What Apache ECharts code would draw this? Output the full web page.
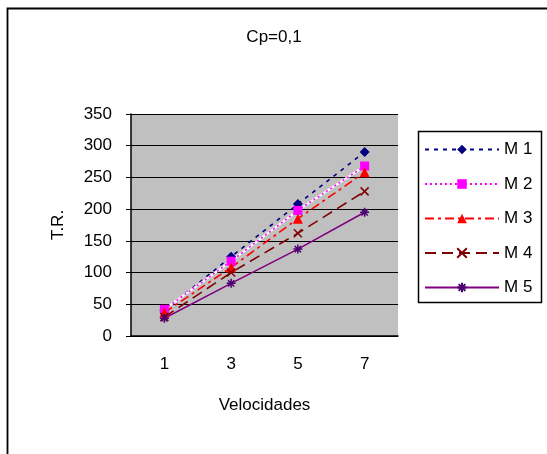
<!DOCTYPE html>
<html><head><meta charset="utf-8">
<script src="https://cdn.jsdelivr.net/npm/echarts@6/dist/echarts.min.js"></script>
<style>html,body{margin:0;padding:0;background:#fff}#c{width:547px;height:454px}</style>
</head><body><div id="c"></div>
<script>
const categories = ['1','3','5','7'];
const seriesNames = ['M 1','M 2','M 3','M 4','M 5'];
const m1 = [40, 125, 208, 290];
const m2 = [42, 118, 198, 268];
const m3 = [37, 108, 185, 258];
const m4 = [30, 100, 162, 228];
const m5 = [28, 83, 137, 195];
const yTicks = {min: 0, max: 350, interval: 50};

const FONT = 'Liberation Sans';
const FS = 17;
const xPath = 'path://M0,0L10,10M10,0L0,10';
const starPath = 'path://M5,0L5,10M0,5L10,5M1.5,1.5L8.5,8.5M8.5,1.5L1.5,8.5';

function ser(name, data, color, mcolor, type, symbol, size, extra) {
  return Object.assign({
    name, type: 'line', data, symbol, symbolSize: size,
    lineStyle: {color, width: 1.6, type},
    itemStyle: {color: mcolor},
    emphasis: {disabled: true},
    animation: false
  }, extra || {});
}

const chart = echarts.init(document.getElementById('c'));
chart.setOption({
  animation: false,
  textStyle: {fontFamily: FONT, color: '#000'},
  title: {text: 'Cp=0,1', left: 269, textAlign: 'center', top: 24,
    textStyle: {fontFamily: FONT, fontSize: FS, fontWeight: 'normal', color: '#000'}},
  graphic: [
    {type: 'rect', shape: {x: 7.5, y: 8.5, width: 600, height: 500}, style: {fill: 'none', stroke: '#000', lineWidth: 1.8}, z: -10},
    {type: 'rect', shape: {x: 418.5, y: 131.5, width: 123, height: 171}, style: {fill: '#fff', stroke: '#000', lineWidth: 1.5}, z: -5}
  ],
  legend: {
    orient: 'vertical', left: 419, top: 136, itemWidth: 74, itemHeight: 12, itemGap: 17.5,
    textStyle: {fontFamily: FONT, fontSize: FS, color: '#000'},
    data: seriesNames
  },
  grid: {left: 131, top: 114, width: 267, height: 222, backgroundColor: '#c0c0c0', show: true, borderWidth: 0},
  xAxis: {
    type: 'category', data: categories, boundaryGap: true,
    name: 'Velocidades', nameLocation: 'middle', nameGap: 61,
    nameTextStyle: {fontFamily: FONT, fontSize: FS, color: '#000'},
    axisLine: {lineStyle: {color: '#000', width: 1.5}},
    axisTick: {length: 5, lineStyle: {color: '#000'}},
    axisLabel: {margin: 20, fontFamily: FONT, fontSize: FS, color: '#000'}
  },
  yAxis: {
    type: 'value', min: yTicks.min, max: yTicks.max, interval: yTicks.interval,
    name: 'T.R.', nameLocation: 'middle', nameGap: 64, nameRotate: 90,
    nameTextStyle: {fontFamily: FONT, fontSize: FS, color: '#000'},
    axisLine: {show: true, lineStyle: {color: '#000', width: 1.5}},
    axisTick: {show: true, length: 5, lineStyle: {color: '#000'}},
    axisLabel: {margin: 19, fontFamily: FONT, fontSize: FS, color: '#000'},
    splitLine: {lineStyle: {color: '#000', width: 1.2}}
  },
  series: [
    ser('M 1', m1, '#000080', '#000080', [4, 5], 'diamond', 10),
    ser('', m2, '#ffffff', '#ffffff', 'solid', 'none', 0, {lineStyle: {color: '#ffffff', width: 2.2}, silent: true}),
    ser('M 2', m2, '#ff00ff', '#ff00ff', [2, 3], 'rect', 9),
    ser('M 3', m3, '#ff0000', '#ff0000', [9, 4, 3, 4], 'triangle', 10),
    ser('M 4', m4, '#800000', 'rgba(0,0,0,0)', [11, 6], xPath, 8, {itemStyle: {color: 'rgba(0,0,0,0)', borderColor: '#800000', borderWidth: 1.5}}),
    ser('M 5', m5, '#800080', 'rgba(0,0,0,0)', 'solid', starPath, 9, {itemStyle: {color: 'rgba(0,0,0,0)', borderColor: '#4b0070', borderWidth: 1.5}})
  ]
});
</script></body></html>
